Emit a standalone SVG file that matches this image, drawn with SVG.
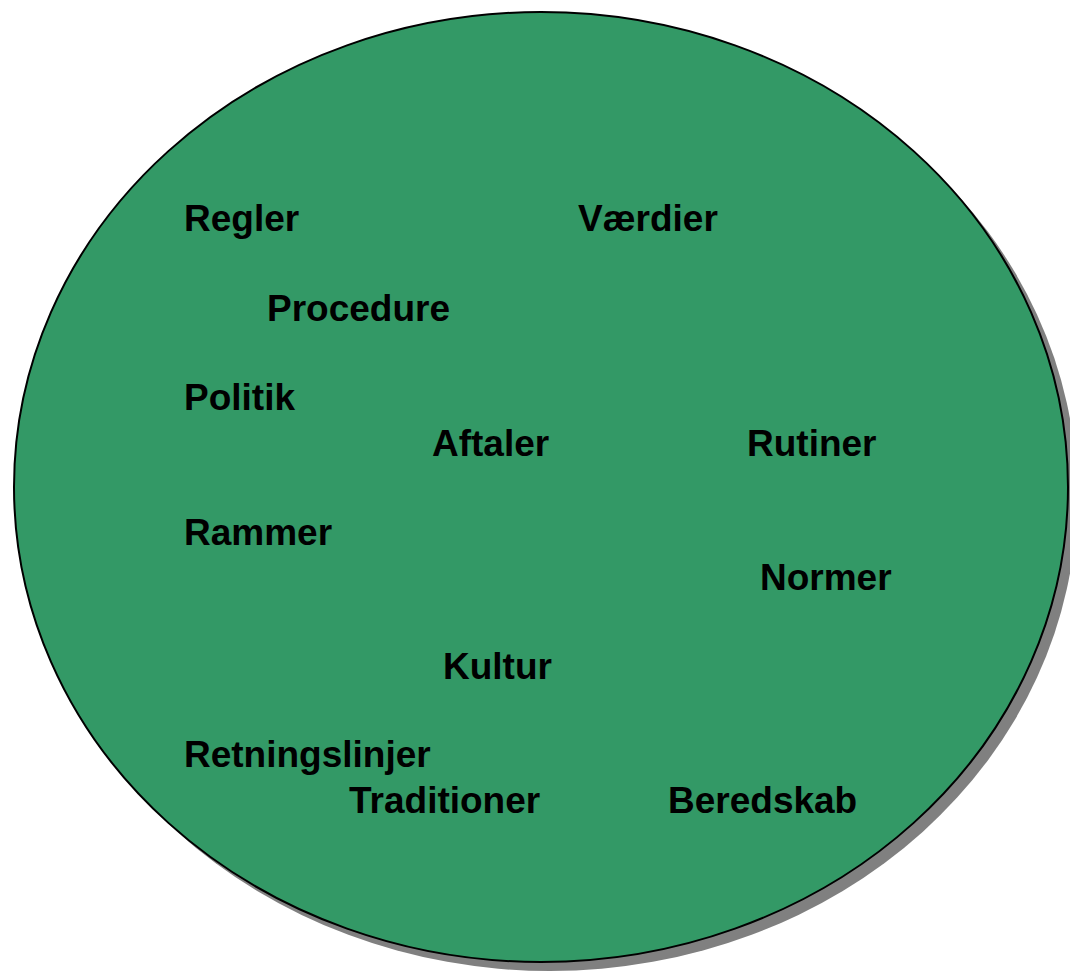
<svg xmlns="http://www.w3.org/2000/svg" width="1070" height="975" viewBox="0 0 1070 975">
<style>
.t{font-family:"Liberation Sans",Arial,sans-serif;font-weight:bold;font-size:37px;fill:#000}
</style>
<rect width="1070" height="975" fill="#fff"/>
<g id="circle">
<ellipse cx="550" cy="496" rx="527" ry="475" fill="#808080"/>
<ellipse cx="541" cy="487" rx="527" ry="475" fill="#339966" stroke="#000" stroke-width="2"/>
</g>
<g id="labels">
<text class="t" x="184" y="231">Regler</text>
<text class="t" x="578" y="231">Værdier</text>
<text class="t" x="267" y="321">Procedure</text>
<text class="t" x="184" y="410">Politik</text>
<text class="t" x="432" y="456">Aftaler</text>
<text class="t" x="747" y="456">Rutiner</text>
<text class="t" x="184" y="545">Rammer</text>
<text class="t" x="760" y="590">Normer</text>
<text class="t" x="443" y="679">Kultur</text>
<text class="t" x="184" y="767">Retningslinjer</text>
<text class="t" x="349" y="813">Traditioner</text>
<text class="t" x="668" y="813">Beredskab</text>
</g>
</svg>
